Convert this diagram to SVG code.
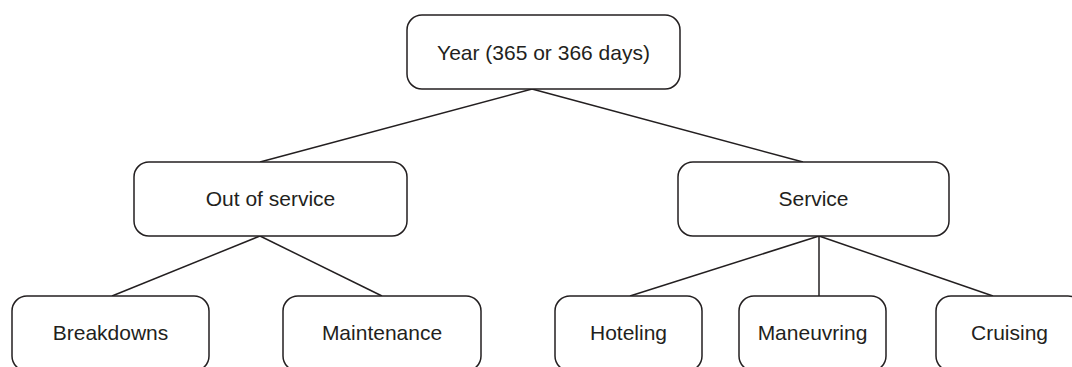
<svg xmlns="http://www.w3.org/2000/svg" width="1072" height="367" viewBox="0 0 1072 367">
<style>
.box{fill:#fff;stroke:#231f20;stroke-width:1.5}
.lbl{font-family:"Liberation Sans",Arial,sans-serif;font-size:21px;fill:#231f20;text-anchor:middle}
.conn line{stroke:#231f20;stroke-width:1.5}
</style>
<rect width="1072" height="367" fill="#fff"/>
<g id="connectors" class="conn">
<line x1="532" y1="89" x2="260" y2="162"/>
<line x1="532" y1="89" x2="803" y2="162"/>
<line x1="260" y1="236" x2="112" y2="296"/>
<line x1="260" y1="236" x2="382" y2="296"/>
<line x1="819" y1="236" x2="630" y2="296"/>
<line x1="819" y1="236" x2="819" y2="296"/>
<line x1="819" y1="236" x2="993" y2="296"/>
</g>
<g id="year"><rect class="box" x="407" y="15" width="273" height="74" rx="15"/><text class="lbl" x="543.5" y="60">Year (365 or 366 days)</text></g>
<g id="out-of-service"><rect class="box" x="134" y="162" width="273" height="74" rx="15"/><text class="lbl" x="270.5" y="206">Out of service</text></g>
<g id="service"><rect class="box" x="678" y="162" width="271" height="74" rx="15"/><text class="lbl" x="813.5" y="206">Service</text></g>
<g id="breakdowns"><rect class="box" x="12" y="296" width="197" height="75" rx="15"/><text class="lbl" x="110.5" y="340">Breakdowns</text></g>
<g id="maintenance"><rect class="box" x="283" y="296" width="198" height="75" rx="15"/><text class="lbl" x="382" y="340">Maintenance</text></g>
<g id="hoteling"><rect class="box" x="555" y="296" width="147" height="75" rx="15"/><text class="lbl" x="628.5" y="340">Hoteling</text></g>
<g id="maneuvring"><rect class="box" x="739" y="296" width="147" height="75" rx="15"/><text class="lbl" x="812.5" y="340">Maneuvring</text></g>
<g id="cruising"><rect class="box" x="936" y="296" width="147" height="75" rx="15"/><text class="lbl" x="1009.5" y="340">Cruising</text></g>
</svg>
